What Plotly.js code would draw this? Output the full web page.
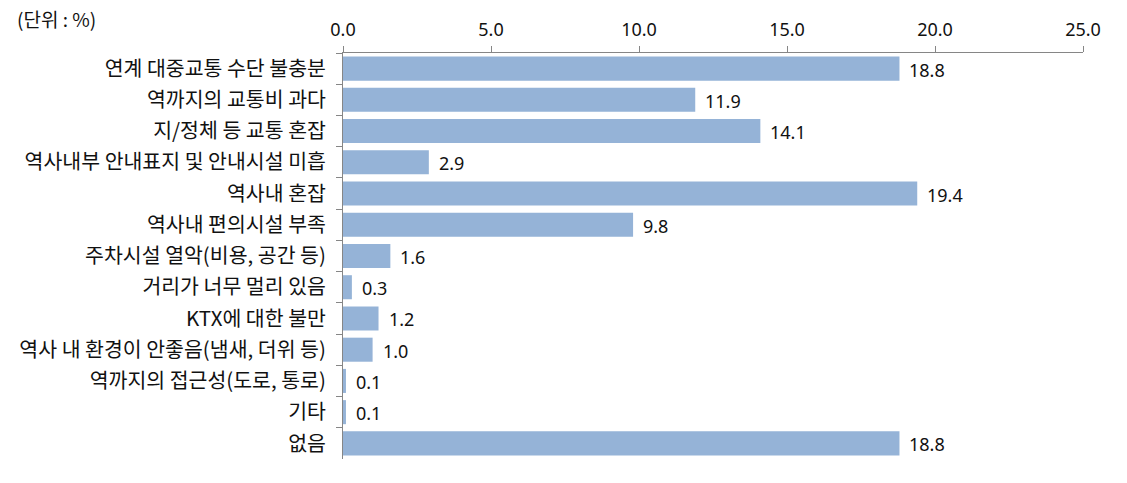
<!DOCTYPE html>
<html><head><meta charset="utf-8">
<script src="https://cdn.plot.ly/plotly-3.0.1.min.js"></script>
<style>body{margin:0;background:#fff}#c{width:1127px;height:483px}</style>
</head><body><div id="c"></div>
<script>
const categories = ["연계 대중교통 수단 불충분","역까지의 교통비 과다","지/정체 등 교통 혼잡","역사내부 안내표지 및 안내시설 미흡","역사내 혼잡","역사내 편의시설 부족","주차시설 열악(비용, 공간 등)","거리가 너무 멀리 있음","KTX에 대한 불만","역사 내 환경이 안좋음(냄새, 더위 등)","역까지의 접근성(도로, 통로)","기타","없음"];
const values = [18.8,11.9,14.1,2.9,19.4,9.8,1.6,0.3,1.2,1.0,0.1,0.1,18.8];
const tickVals = [0,5,10,15,20,25];
const tickText = ["0.0","5.0","10.0","15.0","20.0","25.0"];
const KFONT = '"Noto Sans CJK KR","Noto Sans",sans-serif';
const NFONT = '"Noto Sans","Noto Sans CJK KR",sans-serif';

const annotations = values.map((v,i)=>({x:v,y:categories[i],xref:'x',yref:'y',text:v.toFixed(1),showarrow:false,xanchor:'left',xshift:8,yshift:-1,font:{size:18,color:'#111',family:NFONT}}));
annotations.push({xref:'paper',yref:'paper',x:-328/740,y:1,xanchor:'left',yanchor:'bottom',yshift:19,text:'(단위 : %)',showarrow:false,font:{size:19,color:'#111',family:KFONT}});

Plotly.newPlot('c',[{
  type:'bar',orientation:'h',x:values,y:categories,
  marker:{color:'#95B3D7'},hoverinfo:'none'
}],{
  width:1127,height:483,
  margin:{l:343,r:44,t:53,b:24},
  bargap:0.23,
  paper_bgcolor:'#fff',plot_bgcolor:'#fff',
  showlegend:false,
  font:{family:KFONT,size:16,color:'#111'},
  xaxis:{side:'top',range:[0,25],tickvals:tickVals,ticktext:tickText,showgrid:false,zeroline:false,
    showline:true,linecolor:'#868686',linewidth:1,ticks:'outside',ticklen:6,tickcolor:'#868686',
    ticklabelstandoff:3,tickfont:{size:18,color:'#111',family:NFONT}},
  yaxis:{type:'category',autorange:'reversed',showgrid:false,zeroline:false,showline:true,linecolor:'#868686',linewidth:1,
    ticks:'outside',ticklen:6,tickcolor:'#868686',tickson:'boundaries',ticklabelstandoff:12,tickfont:{size:20.5,color:'#111',family:KFONT}},
  annotations:annotations
},{staticPlot:true});
</script></body></html>
